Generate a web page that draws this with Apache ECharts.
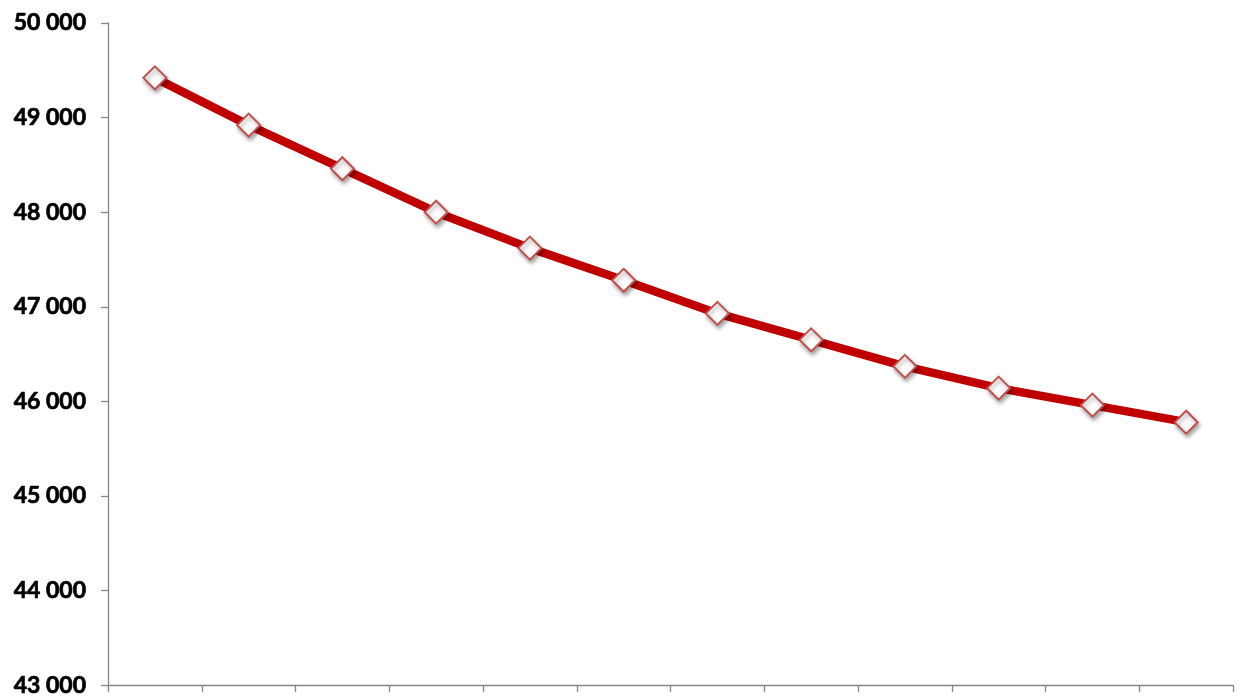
<!DOCTYPE html>
<html>
<head>
<meta charset="utf-8">
<script src="https://cdn.jsdelivr.net/npm/echarts@6/dist/echarts.min.js"></script>
<style>html,body{margin:0;padding:0;background:#fff}#c{width:1242px;height:697px}</style>
</head>
<body>
<div id="c"></div>
<script>
const categories = ['1','2','3','4','5','6','7','8','9','10','11','12'];
const values = [49420, 48920, 48460, 48000, 47620, 47280, 46930, 46650, 46370, 46140, 45960, 45780];
const yMin = 43000, yMax = 50000, yStep = 1000;

function fmt(v){ return String(v).replace(/\B(?=(\d{3})+(?!\d))/g, ' '); }

const chart = echarts.init(document.getElementById('c'));
chart.setOption({
  animation: false,
  grid: { left: 108, right: 9, top: 23, bottom: 10, containLabel: false },
  xAxis: {
    type: 'category', data: categories, boundaryGap: true,
    axisLine: { lineStyle: { color: '#868686', width: 1.3 } },
    axisTick: { show: true, length: 7, inside: false, lineStyle: { color: '#868686', width: 1.3 } },
    axisLabel: { show: false },
    splitLine: { show: false }
  },
  yAxis: {
    type: 'value', min: yMin, max: yMax, interval: yStep,
    axisLine: { show: true, lineStyle: { color: '#868686', width: 1.3 } },
    axisTick: { show: true, length: 7, lineStyle: { color: '#868686', width: 1.3 } },
    axisLabel: { formatter: fmt, fontFamily: 'Lato', fontWeight: 'bold', fontSize: 23, color: '#000', margin: 22,
      textBorderColor: '#000', textBorderWidth: 0.7 },
    splitLine: { show: false }
  },
  series: [{
    type: 'line', data: values,
    lineStyle: { color: '#C00000', width: 8.5 },
    symbol: 'diamond', symbolSize: 23,
    itemStyle: { color: '#fff', borderColor: '#C0504D', borderWidth: 2,
      shadowBlur: 4, shadowOffsetX: 1.5, shadowOffsetY: 3, shadowColor: 'rgba(0,0,0,0.35)' },
    z: 3
  }]
});
</script>
</body>
</html>
